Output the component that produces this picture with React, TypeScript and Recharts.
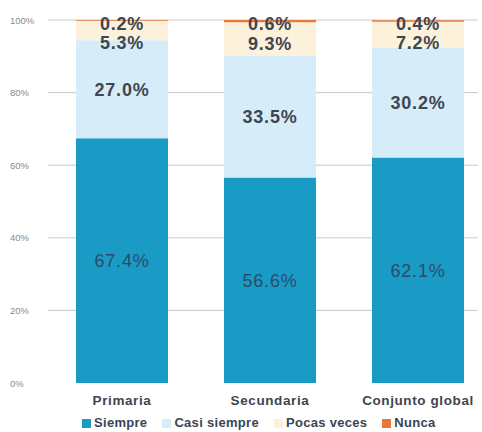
import React from 'react';
import { BarChart, Bar, XAxis, YAxis, CartesianGrid, Legend, LabelList } from 'recharts';

const categories = ['Primaria', 'Secundaria', 'Conjunto global'];
const siempre = [67.4, 56.6, 62.1];
const casiSiempre = [27.0, 33.5, 30.2];
const pocasVeces = [5.3, 9.3, 7.2];
const nunca = [0.2, 0.6, 0.4];
const yTicks = [0, 20, 40, 60, 80, 100];

const data = categories.map((name, i) => ({
  name,
  siempre: siempre[i],
  casi: casiSiempre[i],
  pocas: pocasVeces[i],
  nunca: nunca[i],
}));

const series = [
  { key: 'siempre', name: 'Siempre', color: '#1a9bc5' },
  { key: 'casi', name: 'Casi siempre', color: '#d6ecf8' },
  { key: 'pocas', name: 'Pocas veces', color: '#fcf1da' },
  { key: 'nunca', name: 'Nunca', color: '#e8773a' },
];

const FONT = '"Liberation Sans", Arial, sans-serif';

// label placement: big segments centred, tiny ones pinned near the top
const makeLabel = (mode: 'center' | 'pocas' | 'nunca', fill: string, weight: string) => (props: any) => {
  const { x, y, width, height, value } = props;
  let cy = y + height / 2;
  if (mode === 'pocas') cy = y + 21;
  if (mode === 'nunca') cy = y + 3;
  return (
    <text
      x={x + width / 2}
      y={cy}
      dy={6.5}
      textAnchor="middle"
      fill={fill}
      fontSize={18}
      fontWeight={weight}
      letterSpacing={0.8}
      fontFamily={FONT}
    >
      {Number(value).toFixed(1)}%
    </text>
  );
};

const YTick = (props: any) => {
  const { y, payload } = props;
  return (
    <text x={10} y={y} dy={3.5} textAnchor="start" fill="#8a8a8a" fontSize={9.5} fontFamily={FONT}>
      {payload.value}%
    </text>
  );
};

const XTick = (props: any) => {
  const { x, y, payload } = props;
  return (
    <text x={x} y={y} dy={14} textAnchor="middle" fill="#3d4650" fontSize={13.5} fontWeight="bold" letterSpacing={0.6} fontFamily={FONT}>
      {payload.value}
    </text>
  );
};

const LegendContent = () => (
  <div style={{ display: 'flex', alignItems: 'center', marginTop: 3, lineHeight: '14px', fontFamily: FONT, fontSize: 13, fontWeight: 'bold', color: '#3a4550', letterSpacing: 0.3 }}>
    {series.map((s) => (
      <div key={s.key} style={{ display: 'flex', alignItems: 'center', marginRight: 15 }}>
        <span style={{ display: 'inline-block', width: 9, height: 9, background: s.color, marginRight: 3 }} />
        <span>{s.name}</span>
      </div>
    ))}
  </div>
);

export default function App() {
  return (
    <div style={{ position: 'absolute', left: 0, top: 0, background: '#fff' }}>
      <BarChart width={482} height={432} data={data} margin={{ top: 20, right: 4, bottom: 0, left: 0 }}>
        <CartesianGrid vertical={false} horizontalValues={[20, 40, 60, 80, 100]} stroke="#c9c9c9" />
        <XAxis
          dataKey="name"
          tick={<XTick />}
          tickLine={false}
          axisLine={false}
          height={30}
          padding={{ left: 0, right: -14 }}
        />
        <YAxis
          domain={[0, 100]}
          ticks={yTicks}
          tick={<YTick />}
          tickLine={false}
          axisLine={false}
          width={48}
          allowDataOverflow
        />
        <Legend
          verticalAlign="bottom"
          height={19}
          content={<LegendContent />}
          wrapperStyle={{ left: 82, width: 400 }}
        />
        {series.map((s) => (
          <Bar key={s.key} dataKey={s.key} name={s.name} stackId="a" fill={s.color} barSize={92} isAnimationActive={false}>
            <LabelList
              dataKey={s.key}
              content={makeLabel(
                s.key === 'pocas' ? 'pocas' : s.key === 'nunca' ? 'nunca' : 'center',
                s.key === 'siempre' ? '#2c4b6c' : '#3d4652',
                s.key === 'siempre' ? 'normal' : 'bold'
              )}
            />
          </Bar>
        ))}
      </BarChart>
    </div>
  );
}
